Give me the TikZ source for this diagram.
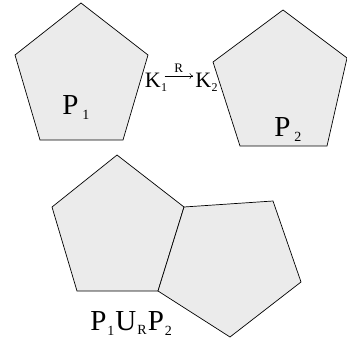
\documentclass[tikz,border=0pt]{standalone}
\usepackage{fontspec}
\setmainfont{Liberation Serif}
\usetikzlibrary{arrows.meta}
\newcommand\lowidx[2][5pt]{\kern1pt\raisebox{-#1}{\fontsize{14}{14}\selectfont #2}\kern1pt}
\newcommand\kidx[1]{\kern0.5pt\raisebox{-4pt}{\fontsize{12}{12}\selectfont #1}}
\begin{document}
\begin{tikzpicture}[x=1pt, y=-1pt, line width=0.7pt]
  \tikzset{poly/.style={draw, fill=black!8, line join=miter},
           lab/.style={inner sep=0pt, anchor=base west, font=\fontsize{29}{29}\selectfont},
           klab/.style={inner sep=0pt, anchor=base west, font=\fontsize{22}{22}\selectfont}}
  \useasboundingbox (0,0) rectangle (346,347);
  % the two pentagons
  \draw[poly] (81,3) -- (148,55) -- (123,140) -- (40,140) -- (15,55) -- cycle;
  \draw[poly] (283,10) -- (347,58) -- (327,146) -- (240,146) -- (213,62) -- cycle;
  % glued along the edge R
  \draw[poly] (117,155) -- (184,207) -- (158,291) -- (77,291) -- (52,207) -- cycle;
  \draw[poly] (184,207) -- (273,201) -- (301,282) -- (230,337) -- (158,291) -- cycle;
  \node[lab] (p1) at (62,115) {P\kern3pt\lowidx{1}};
  \node[lab] (p2) at (274,137) {P\kern3pt\lowidx{2}};
  \node[klab] (k1) at (144.5,88) {K\kidx{1}};
  \node[klab] (k2) at (195,88) {K\kidx{2}};
  \draw[-{To[length=3.5pt, width=6pt]}, line width=0.5pt]
    ([xshift=-3pt, yshift=12pt]k1.base east) -- ([xshift=-2pt, yshift=12pt]k2.base west)
    node[midway, above=2pt, inner sep=1pt, font=\fontsize{13}{13}\selectfont] {R};
  \node[lab] (un) at (90,330) {P\lowidx{1}U\lowidx[4pt]{R}P\lowidx{2}};
\end{tikzpicture}
\end{document}
